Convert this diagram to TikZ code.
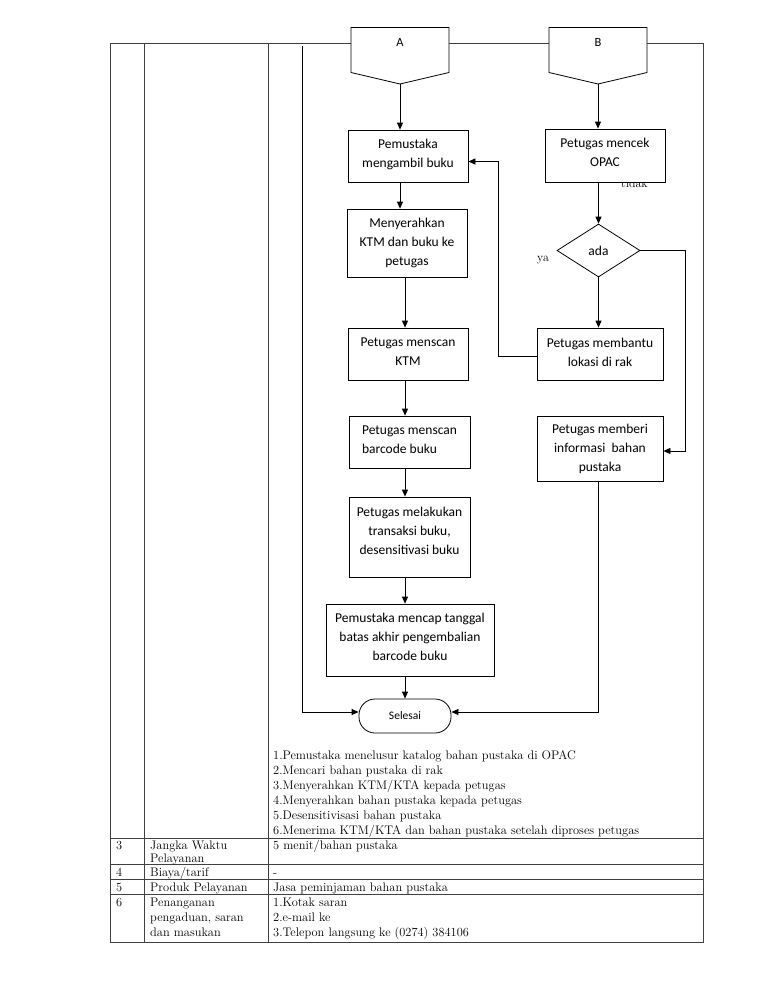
\documentclass[tikz,border=0pt]{standalone}
\usepackage{fontspec}
\newfontfamily\flowfont{Carlito}
\usetikzlibrary{shapes.geometric,arrows.meta,calc}
\begin{document}
\begin{tikzpicture}[x=1pt,y=-1pt,
  tline/.style={draw=black!75, line width=0.8pt},
  fline/.style={draw=black, line width=0.8pt},
  box/.style={draw=black, fill=white, line width=0.8pt, rectangle, inner sep=0pt,
    font=\flowfont\fontsize{13.5}{19}\selectfont, align=center},
  arr/.style={fline, -{Triangle[length=7pt,width=6pt]}},
  ttext/.style={anchor=base west, inner sep=0pt, font=\fontsize{12.4}{15}\selectfont},
  lbl/.style={inner sep=0pt, font=\fontsize{12}{14}\selectfont}
]
\useasboundingbox (0,0) rectangle (768,994);
\fill[white] (0,0) rectangle (768,994);

% ---- table ----
\draw[tline] (110,43) rectangle (703,942);
\draw[tline] (144.5,43) -- (144.5,942);
\draw[tline] (268,43) -- (268,942);
\foreach \yy in {838,864,879,894} \draw[tline] (110,\yy) -- (703,\yy);

% ---- connectors A and B ----
\draw[fline, fill=white] (351,27.5) -- (449,27.5) -- (449,72.5) -- (400,84) -- (351,72.5) -- cycle;
\node[inner sep=0pt, font=\flowfont\fontsize{12.5}{14}\selectfont] (A) at (400,42) {A};
\coordinate (Ap) at (400,84);
\draw[fline, fill=white] (549,27.5) -- (647,27.5) -- (647,72.5) -- (598,84) -- (549,72.5) -- cycle;
\node[inner sep=0pt, font=\flowfont\fontsize{12.5}{14}\selectfont] (B) at (598,42) {B};
\coordinate (Bp) at (598,84);

% ---- labels ----
\node[lbl, anchor=base west] (tidak) at (621,187) {tidak};
\node[lbl, anchor=base west] (ya) at (537,261) {ya};

% ---- left column boxes ----
\node[box, minimum width=120pt, minimum height=52pt] (n1) at (408,156) {Pemustaka\\mengambil buku\\[-13pt]};
\node[box, minimum width=120pt, minimum height=68pt] (n2) at (407,243) {Menyerahkan\\KTM dan buku ke\\petugas};
\node[box, minimum width=120pt, minimum height=52pt] (n3) at (408,354) {Petugas menscan\\KTM\\[-15pt]};
\node[box, minimum width=121pt, minimum height=52pt, align=left] (n4) at (409.5,442) {Petugas menscan\\barcode buku\\[-15pt]};
\node[box, minimum width=121pt, minimum height=80pt] (n5) at (409.5,537) {Petugas melakukan\\transaksi buku,\\desensitivasi buku\\[-7pt]};
\node[box, minimum width=168pt, minimum height=72pt] (n6) at (410,640) {Pemustaka mencap tanggal\\batas akhir pengembalian\\barcode buku\\[-13pt]};
\node[box, minimum width=92pt, minimum height=34pt, rounded corners=16pt,
      font=\flowfont\fontsize{11.5}{14}\selectfont] (sel) at (405,716) {Selesai};

% ---- right column ----
\node[box, minimum width=120pt, minimum height=53pt] (opac) at (605,155.5) {Petugas mencek\\OPAC\\[-13pt]};
\node[box, diamond, minimum width=83pt, minimum height=53pt] (dia) at (598.5,250.5) {ada};
\node[box, minimum width=126pt, minimum height=52pt] (bantu) at (600,354) {Petugas membantu\\lokasi di rak\\[-15pt]};
\node[box, minimum width=126pt, minimum height=65pt] (info) at (600,448.5) {Petugas memberi\\informasi~ bahan\\pustaka};

% ---- arrows ----
\draw[arr] (Ap) -- (Ap |- n1.north);
\draw[arr] (Ap |- n1.south) -- (Ap |- n2.north);
\draw[arr] (sel.north |- n2.south) -- (sel.north |- n3.north);
\draw[arr] (sel.north |- n3.south) -- (sel.north |- n4.north);
\draw[arr] (sel.north |- n4.south) -- (sel.north |- n5.north);
\draw[arr] (sel.north |- n5.south) -- (sel.north |- n6.north);
\draw[arr] (sel.north |- n6.south) -- (sel.north);

\draw[arr] (Bp) -- (Bp |- opac.north);
\draw[arr] (dia.north |- opac.south) -- (dia.north);
\draw[arr] (dia.south) -- (dia.south |- bantu.north);
\draw[arr] (bantu.west |- 0,356) -- (498.5,356) -- (498.5,161.5) -- (n1.east |- 0,161.5);
\draw[arr] (dia.east) -- (685.5,250.5) -- (685.5,451) -- (info.east |- 0,451);

\coordinate (Ltop) at (302,46);
\coordinate (Lbot) at (302,712);
\draw[arr] (Ltop) -- (Lbot) -- (sel.west |- Lbot);
\coordinate (Rbot) at (dia.south |- Lbot);
\draw[arr] (dia.south |- info.south) -- (Rbot) -- (sel.east |- Lbot);

% ---- table texts ----
\node[ttext] (l1) at (273,759) {1.Pemustaka menelusur katalog bahan pustaka di OPAC};
\node[ttext] (l2) at (273,774) {2.Mencari bahan pustaka di rak};
\node[ttext] (l3) at (273,789) {3.Menyerahkan KTM/KTA kepada petugas};
\node[ttext] (l4) at (273,804) {4.Menyerahkan bahan pustaka kepada petugas};
\node[ttext] (l5) at (273,819) {5.Desensitivisasi bahan pustaka};
\node[ttext] (l6) at (273,834) {6.Menerima KTM/KTA dan bahan pustaka setelah diproses petugas};

\node[ttext] (r3n) at (116,849) {3};
\node[ttext] (r3a) at (150,849) {Jangka Waktu};
\node[ttext] (r3b) at (150,862) {Pelayanan};
\node[ttext] (r3c) at (273,849) {5 menit/bahan pustaka};

\node[ttext] (r4n) at (116,876) {4};
\node[ttext] (r4a) at (150,876) {Biaya/tarif};
\node[ttext] (r4c) at (273,876) {-};

\node[ttext] (r5n) at (116,891) {5};
\node[ttext] (r5a) at (150,891) {Produk Pelayanan};
\node[ttext] (r5c) at (273,891) {Jasa peminjaman bahan pustaka};

\node[ttext] (r6n) at (116,906) {6};
\node[ttext] (r6a) at (150,906) {Penanganan};
\node[ttext] (r6b) at (150,921) {pengaduan, saran};
\node[ttext] (r6d) at (150,936) {dan masukan};
\node[ttext] (r6c) at (273,906) {1.Kotak saran};
\node[ttext] (r6e) at (273,921) {2.e-mail ke};
\node[ttext] (r6f) at (273,936) {3.Telepon langsung ke (0274) 384106};
\end{tikzpicture}
\end{document}
